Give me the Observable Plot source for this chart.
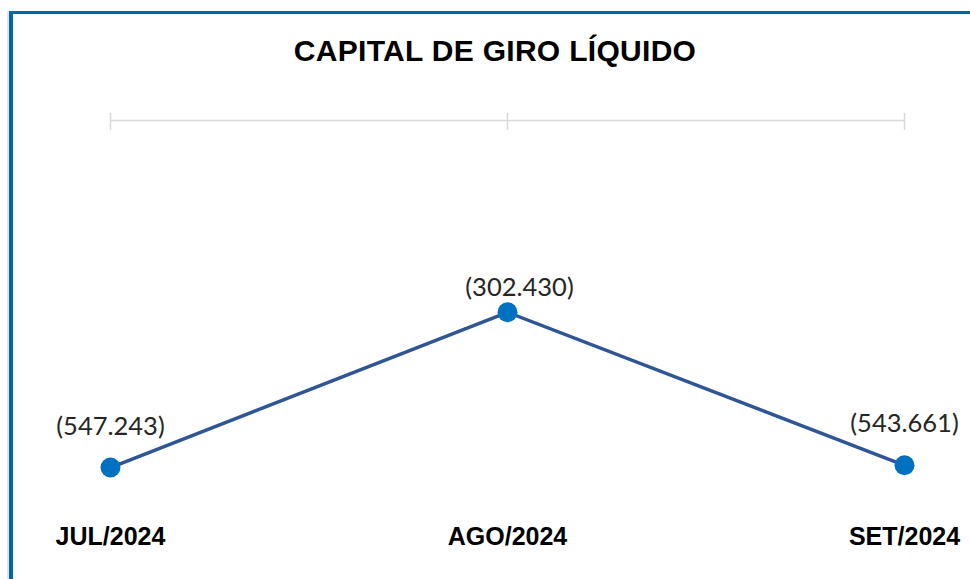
<!DOCTYPE html>
<html>
<head>
<meta charset="utf-8">
<script src="https://cdn.jsdelivr.net/npm/d3@7"></script>
<script src="https://cdn.jsdelivr.net/npm/@observablehq/plot@0.6"></script>
<style>
  html, body { margin: 0; padding: 0; background: #fff; overflow: hidden; }
  #wrap { position: relative; width: 970px; height: 579px; overflow: hidden; }
  #frame { position: absolute; left: 9px; top: 11px; width: 1200px; height: 800px;
           border-top: 3px solid #0067AC; border-left: 4px solid #0067AC; box-sizing: border-box; }
  #shade { position: absolute; left: 7px; top: 11px; width: 2px; height: 800px; background: #e4e6ea; }
  #title { position: absolute; left: 0; top: 0; width: 990px; height: 90px; text-align: center;
           font-family: "Liberation Sans", Arial, sans-serif; font-weight: bold; font-size: 30px;
           letter-spacing: 0.3px; line-height: 30px; padding-top: 36px; box-sizing: border-box; color: #000; }
  #chart { position: absolute; left: 0; top: 90px; }
</style>
</head>
<body>
<div id="wrap">
  <div id="shade"></div>
  <div id="frame"></div>
  <div id="title">CAPITAL DE GIRO LÍQUIDO</div>
  <div id="chart"></div>
</div>
<script>
const months = ["JUL/2024", "AGO/2024", "SET/2024"];
const values = [-547243, -302430, -543661];

const data = months.map((m, i) => ({month: m, value: values[i]}));

const locale = d3.formatLocale({decimal: ",", thousands: ".", grouping: [3], currency: ["R$", ""]});
const fmt = locale.format("(,.0f");

const valueFont = {fontFamily: "Lato, 'Open Sans', sans-serif", fontSize: 25.5, fill: "#262626"};

const chart = Plot.plot({
  width: 970,
  height: 489,
  marginLeft: 110,
  marginRight: 66,
  marginTop: 39,
  marginBottom: 52,
  x: {type: "point", domain: months, padding: 0, label: null},
  y: {domain: [-700000, 0], range: [473.9, 30], axis: null},
  marks: [
    Plot.ruleY([0], {stroke: "#d9d9d9", strokeWidth: 1.5}),
    Plot.axisX({anchor: "top", tickSize: 17, tickFormat: () => "", stroke: "#d9d9d9", strokeWidth: 1.5, strokeOpacity: 1, label: null}),
    Plot.axisX({anchor: "bottom", tickSize: 0, tickPadding: 0, label: null,
                fontSize: 25, fontWeight: "bold", fontFamily: "'Liberation Sans', Arial, sans-serif", fill: "#000"}),
    Plot.line(data, {x: "month", y: "value", stroke: "#2F5597", strokeWidth: 3.5}),
    Plot.dot(data, {x: "month", y: "value", r: 10, fill: "#0070C0", stroke: "none"}),
    Plot.text(data, {filter: d => d.month !== "AGO/2024", x: "month", y: "value", text: d => fmt(d.value),
                     dy: -41, lineAnchor: "middle", ...valueFont}),
    Plot.text(data, {filter: d => d.month === "AGO/2024", x: "month", y: "value", text: d => fmt(d.value),
                     dy: -24, dx: 12, lineAnchor: "middle", ...valueFont})
  ]
});
chart.style.background = "transparent";
document.getElementById("chart").appendChild(chart);
</script>
</body>
</html>
